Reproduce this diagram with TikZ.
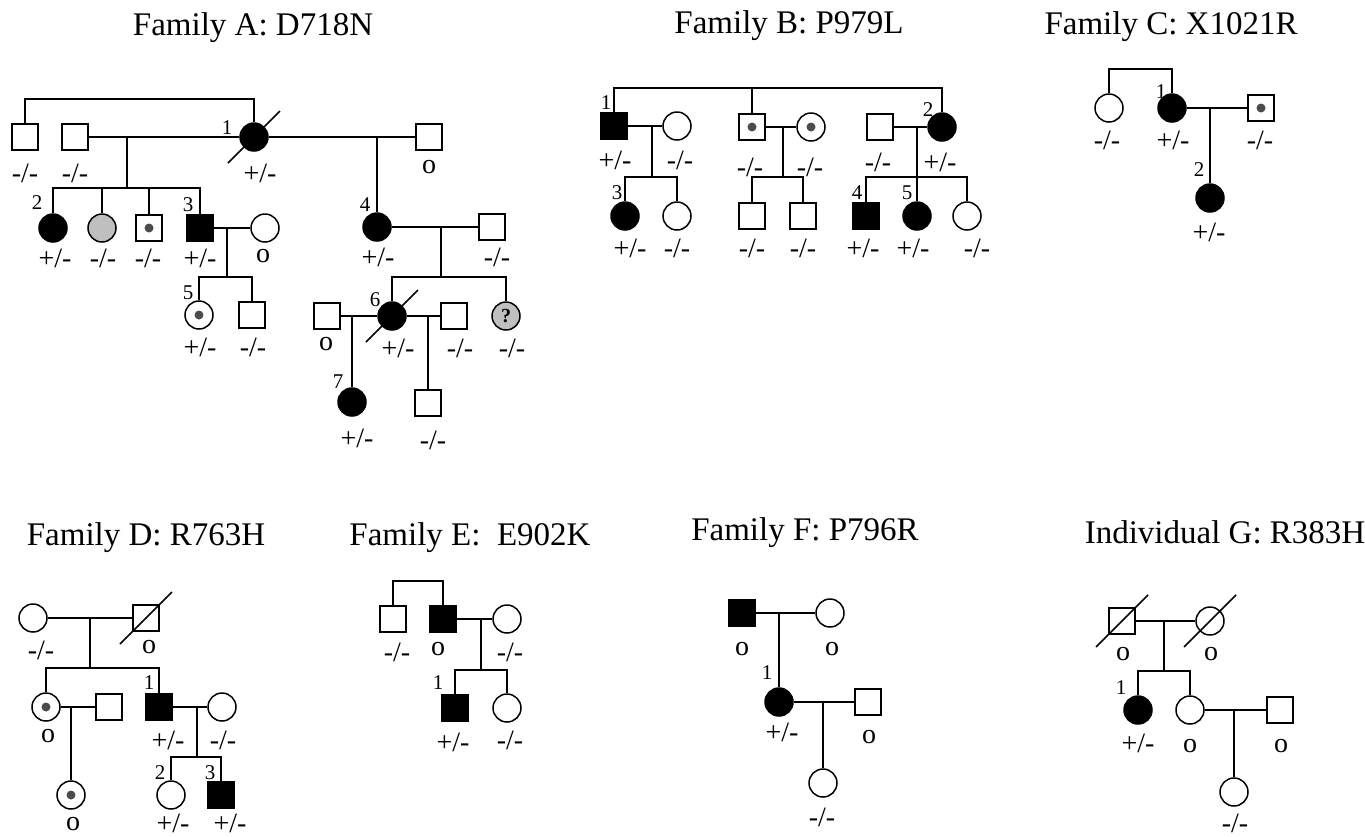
\documentclass[tikz,border=0pt]{standalone}
\usepackage{fontspec}
\setmainfont{Liberation Serif}
\newcommand{\drawsq}{\node[draw,rectangle,minimum size=26pt,inner sep=0]}
\newcommand{\drawci}{\node[draw,circle,minimum size=28pt,inner sep=0]}
\newcommand{\drawdummy}{\node[minimum size=0,inner sep=0,outer sep=0]}
\newcommand{\deadline}[1]{\draw ([shift={(-26,26)}]#1.center) -- ([shift={(26,-26)}]#1.center);}
\tikzset{
aff/.style={fill=black},
unk/.style={fill=black!25,font=\fontsize{20}{20}\selectfont\bfseries},
carrier/.style={path picture={\fill[black!70] (path picture bounding box.center) circle (4.5pt);}},
gt/.style={font=\fontsize{28}{28}\selectfont,inner sep=0},
num/.style={font=\fontsize{21}{21}\selectfont,inner sep=0},
ttl/.style={font=\fontsize{33}{33}\selectfont,inner sep=0,anchor=base}
}

\begin{document}
\begin{tikzpicture}[x=1pt,y=-1pt,line width=1.5pt]
\useasboundingbox (0,0) rectangle (1365,836);

%titles
\node[ttl] (tA) at (253,35) {Family A: D718N};
\node[ttl] (tB) at (789,33) {Family B: P979L};
\node[ttl] (tC) at (1171,34) {Family C: X1021R};
\node[ttl] (tD) at (146,545) {Family D: R763H};
\node[ttl] (tE) at (470,545) {Family E:~~E902K};
\node[ttl] (tF) at (805,540) {Family F: P796R};
\node[ttl] (tG) at (1225,543) {Individual G: R383H};

%family A
\drawsq (a1) at (25,137) {};
\drawsq (a2) at (75,137) {};
\drawci (aI1) at (254,137) [aff] {};
\drawsq (a3) at (429,137) {};
\drawdummy (topA) at (140,99) {};
\drawdummy (mA1) at (127,137) {};
\drawdummy (sA1) at (127,188) {};
\drawdummy (mA3) at (377,137) {};
\deadline{aI1}
\draw (a1) |- (topA.center) -| (aI1);
\draw (a2) to (aI1);
\draw (aI1) to (a3);
\draw (mA1.center) to (sA1.center);
\node[num] (nA1) at (227,128) {1};
\node[gt] (lA1) at (25,173) {-/-};
\node[gt] (lA2) at (75,173) {-/-};
\node[gt] (lA3) at (260,173) {+/-};
\node[gt] (lA4) at (429,167) {o};

\drawci (aII2) at (53,228) [aff] {};
\drawci (aII3) at (102,228) [unk] {};
\drawsq (aII4) at (149,228) [carrier] {};
\drawsq (aII5) at (200,228) [aff] {};
\drawci (aII6) at (265,228) {};
\draw (aII2) |- (sA1.center) -| (aII5);
\draw (aII3) to (aII3 |- sA1.center);
\draw (aII4) to (aII4 |- sA1.center);
\draw (aII5) to (aII6);
\node[num] (nA2) at (37,203) {2};
\node[num] (nA3) at (188,205) {3};
\node[gt] (lA5) at (55,258) {+/-};
\node[gt] (lA6) at (103,258) {-/-};
\node[gt] (lA7) at (148,258) {-/-};
\node[gt] (lA8) at (200,258) {+/-};
\node[gt] (lA9) at (263,256) {o};

\drawdummy (mA2) at (227,228) {};
\drawdummy (sA2) at (227,277) {};
\drawci (aIII1) at (199,315) [carrier] {};
\drawsq (aIII2) at (252,315) {};
\draw (mA2.center) to (sA2.center);
\draw (aIII1) |- (sA2.center) -| (aIII2);
\node[num] (nA5) at (188,293) {5};
\node[gt] (lA10) at (200,347) {+/-};
\node[gt] (lA11) at (253,347) {-/-};

\drawci (aII7) at (377,227) [aff] {};
\drawsq (aII8) at (492,227) {};
\drawdummy (mA4) at (441,227) {};
\drawdummy (sA4) at (441,277) {};
\draw (mA3.center) to (aII7);
\draw (aII7) to (aII8);
\draw (mA4.center) to (sA4.center);
\node[num] (nA4) at (365,205) {4};
\node[gt] (lA12) at (378,257) {+/-};
\node[gt] (lA13) at (497,257) {-/-};

\drawsq (aIII5) at (327,316) {};
\drawci (aIII3) at (392,316) [aff] {};
\drawsq (aIII6) at (454,316) {};
\drawci (aIII4) at (506,316) [unk] {?};
\deadline{aIII3}
\draw (aIII3) |- (sA4.center) -| (aIII4);
\draw (aIII5) to (aIII3);
\draw (aIII3) to (aIII6);
\node[num] (nA6) at (375,300) {6};
\node[gt] (lA14) at (326,344) {o};
\node[gt] (lA15) at (398,348) {+/-};
\node[gt] (lA16) at (460,348) {-/-};
\node[gt] (lA17) at (512,348) {-/-};

\drawdummy (mA5) at (352,316) {};
\drawdummy (mA6) at (428,316) {};
\drawci (aIV1) at (352,402) [aff] {};
\drawsq (aIV2) at (428,403) {};
\draw (mA5.center) to (aIV1);
\draw (mA6.center) to (aIV2);
\node[num] (nA7) at (338,382) {7};
\node[gt] (lA18) at (357,438) {+/-};
\node[gt] (lA19) at (433,440) {-/-};

%family B
\drawsq (b1) at (614,126) [aff] {};
\drawci (b2) at (677,126) {};
\drawsq (b3) at (752,127) [carrier] {};
\drawci (b4) at (811,127) [carrier] {};
\drawsq (b5) at (880,127) {};
\drawci (b6) at (942,127) [aff] {};
\drawdummy (topB) at (752,88) {};
\draw (b1) |- (topB.center) -| (b6);
\draw (topB.center) to (b3);
\draw (b1) to (b2);
\draw (b3) to (b4);
\draw (b5) to (b6);
\node[num] (nB1) at (606,103) {1};
\node[num] (nB2) at (928,110) {2};
\node[gt] (lB1) at (615,160) {+/-};
\node[gt] (lB2) at (680,160) {-/-};
\node[gt] (lB3) at (750,167) {-/-};
\node[gt] (lB4) at (810,167) {-/-};
\node[gt] (lB5) at (878,162) {-/-};
\node[gt] (lB6) at (940,162) {+/-};

\drawdummy (mB1) at (652,126) {};
\drawdummy (sB1) at (652,177) {};
\drawdummy (mB2) at (783,127) {};
\drawdummy (sB2) at (783,177) {};
\drawdummy (mB3) at (917,127) {};
\drawdummy (sB3) at (917,177) {};
\drawci (b7) at (625,216) [aff] {};
\drawci (b8) at (677,216) {};
\drawsq (b9) at (752,216) {};
\drawsq (b10) at (803,216) {};
\drawsq (b11) at (866,216) [aff] {};
\drawci (b12) at (917,216) [aff] {};
\drawci (b13) at (967,216) {};
\draw (mB1.center) to (sB1.center);
\draw (b7) |- (sB1.center) -| (b8);
\draw (mB2.center) to (sB2.center);
\draw (b9) |- (sB2.center) -| (b10);
\draw (mB3.center) to (b12);
\draw (b11) |- (sB3.center) -| (b13);
\node[num] (nB3) at (617,193) {3};
\node[num] (nB4) at (857,193) {4};
\node[num] (nB5) at (907,193) {5};
\node[gt] (lB7) at (630,248) {+/-};
\node[gt] (lB8) at (677,248) {-/-};
\node[gt] (lB9) at (752,248) {-/-};
\node[gt] (lB10) at (803,248) {-/-};
\node[gt] (lB11) at (863,248) {+/-};
\node[gt] (lB12) at (913,248) {+/-};
\node[gt] (lB13) at (977,248) {-/-};

%family C
\drawci (c1) at (1109,108) {};
\drawci (c2) at (1172,108) [aff] {};
\drawsq (c3) at (1261,108) [carrier] {};
\drawci (c4) at (1210,198) [aff] {};
\drawdummy (topC) at (1140,69) {};
\drawdummy (mC) at (1210,108) {};
\draw (c1) |- (topC.center) -| (c2);
\draw (c2) to (c3);
\draw (mC.center) to (c4);
\node[num] (nC1) at (1161,92) {1};
\node[num] (nC2) at (1199,170) {2};
\node[gt] (lC1) at (1107,140) {-/-};
\node[gt] (lC2) at (1173,140) {+/-};
\node[gt] (lC3) at (1260,140) {-/-};
\node[gt] (lC4) at (1209,232) {+/-};

%family D
\drawci (d1) at (33,618) {};
\drawsq (d2) at (146,618) {};
\deadline{d2}
\drawdummy (mD1) at (90,618) {};
\drawdummy (sD1) at (90,668) {};
\draw (d1) to (d2);
\draw (mD1.center) to (sD1.center);
\node[gt] (lD1) at (41,650) {-/-};
\node[gt] (lD2) at (149,647) {o};

\drawci (d3) at (46,707) [carrier] {};
\drawsq (d5) at (109,707) {};
\drawsq (d4) at (159,707) [aff] {};
\drawci (d7) at (222,707) {};
\draw (d3) |- (sD1.center) -| (d4);
\draw (d3) to (d5);
\draw (d4) to (d7);
\node[num] (nD1) at (149,683) {1};
\node[gt] (lD3) at (48,736) {o};
\node[gt] (lD4) at (168,740) {+/-};
\node[gt] (lD5) at (223,740) {-/-};

\drawdummy (mD2) at (71,707) {};
\drawdummy (mD3) at (197,707) {};
\drawdummy (sD3) at (197,757) {};
\drawci (d6) at (71,795) [carrier] {};
\drawci (d8) at (171,795) {};
\drawsq (d9) at (221,795) [aff] {};
\draw (mD2.center) to (d6);
\draw (mD3.center) to (sD3.center);
\draw (d8) |- (sD3.center) -| (d9);
\node[num] (nD2) at (160,773) {2};
\node[num] (nD3) at (210,773) {3};
\node[gt] (lD6) at (73,824) {o};
\node[gt] (lD7) at (173,823) {+/-};
\node[gt] (lD8) at (230,823) {+/-};

%family E
\drawsq (e1) at (393,619) {};
\drawsq (e2) at (443,619) [aff] {};
\drawci (e3) at (507,619) {};
\drawdummy (topE) at (418,581) {};
\drawdummy (mE) at (481,619) {};
\drawdummy (sE) at (481,670) {};
\drawsq (e4) at (455,708) [aff] {};
\drawci (e5) at (507,708) {};
\draw (e1) |- (topE.center) -| (e2);
\draw (e2) to (e3);
\draw (mE.center) to (sE.center);
\draw (e4) |- (sE.center) -| (e5);
\node[num] (nE1) at (438,683) {1};
\node[gt] (lE1) at (397,652) {-/-};
\node[gt] (lE2) at (438,649) {o};
\node[gt] (lE3) at (510,652) {-/-};
\node[gt] (lE4) at (453,742) {+/-};
\node[gt] (lE5) at (510,740) {-/-};

%family F
\drawsq (f1) at (742,613) [aff] {};
\drawci (f2) at (830,613) {};
\drawci (f3) at (779,702) [aff] {};
\drawsq (f4) at (868,702) {};
\drawci (f5) at (823,783) {};
\drawdummy (mF1) at (779,613) {};
\drawdummy (mF2) at (823,702) {};
\draw (f1) to (f2);
\draw (mF1.center) to (f3);
\draw (f3) to (f4);
\draw (mF2.center) to (f5);
\node[num] (nF1) at (767,673) {1};
\node[gt] (lF1) at (742,649) {o};
\node[gt] (lF2) at (832,649) {o};
\node[gt] (lF3) at (782,732) {+/-};
\node[gt] (lF4) at (869,737) {o};
\node[gt] (lF5) at (822,817) {-/-};

%individual G
\drawsq (g1) at (1122,621) {};
\drawci (g2) at (1210,621) {};
\deadline{g1}
\deadline{g2}
\drawdummy (mG1) at (1164,621) {};
\drawdummy (sG1) at (1164,671) {};
\drawci (g3) at (1138,710) [aff] {};
\drawci (g4) at (1190,710) {};
\drawsq (g5) at (1280,710) {};
\drawdummy (mG2) at (1234,710) {};
\drawci (g6) at (1234,792) {};
\draw (g1) to (g2);
\draw (mG1.center) to (sG1.center);
\draw (g3) |- (sG1.center) -| (g4);
\draw (g4) to (g5);
\draw (mG2.center) to (g6);
\node[num] (nG1) at (1121,688) {1};
\node[gt] (lG1) at (1123,654) {o};
\node[gt] (lG2) at (1211,654) {o};
\node[gt] (lG3) at (1138,743) {+/-};
\node[gt] (lG4) at (1190,746) {o};
\node[gt] (lG5) at (1281,746) {o};
\node[gt] (lG6) at (1235,823) {-/-};

\end{tikzpicture}
\end{document}
